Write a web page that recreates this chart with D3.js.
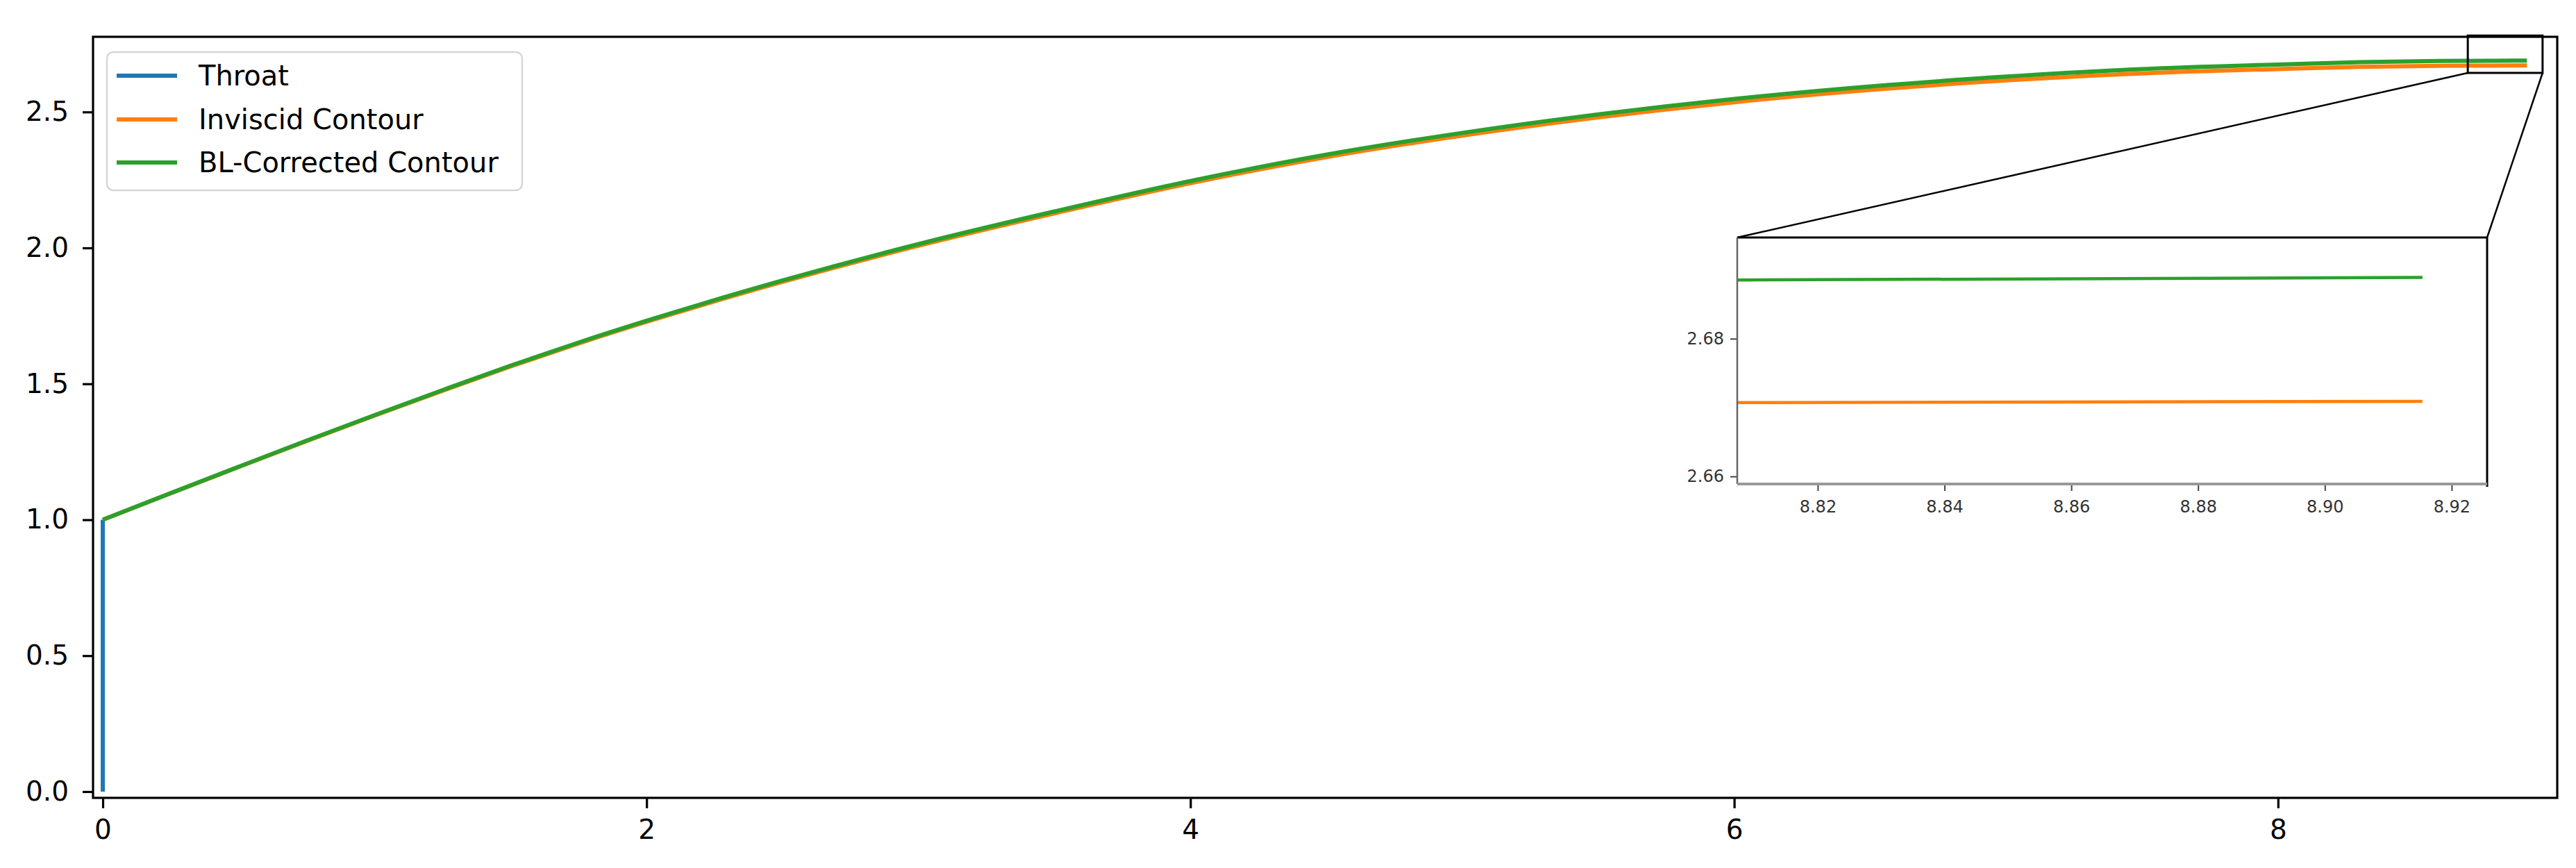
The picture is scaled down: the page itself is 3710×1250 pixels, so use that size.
<!DOCTYPE html>
<html>
<head>
<meta charset="utf-8">
<script src="https://cdn.jsdelivr.net/npm/d3@7/dist/d3.min.js"></script>
<style>
  html, body { margin: 0; padding: 0; background: #ffffff; }
  svg { display: block; font-family: "DejaVu Sans", sans-serif; }
</style>
</head>
<body>
<script>
// ---------------- data ----------------
const contourX   = [0, 0.25, 0.5, 0.75, 1.0, 1.25, 1.5, 1.75, 2.0, 2.5, 3.0, 3.5, 4.0, 4.5, 5.0, 5.5, 6.0, 6.5, 7.0, 7.5, 8.0, 8.3, 8.6, 8.8, 8.9154];
const inviscidY  = [1.000, 1.0975, 1.194, 1.2895, 1.383, 1.4745, 1.564, 1.6485, 1.728, 1.875, 2.008, 2.127, 2.238, 2.334, 2.413, 2.480, 2.536, 2.581, 2.616, 2.642, 2.658, 2.666, 2.6697, 2.6707, 2.6709];
const blY        = [1.000, 1.098, 1.195, 1.291, 1.385, 1.477, 1.567, 1.652, 1.732, 1.880, 2.014, 2.134, 2.246, 2.343, 2.423, 2.491, 2.548, 2.594, 2.630, 2.658, 2.6745, 2.6830, 2.6875, 2.6885, 2.6889];
const throatX    = [0, 0];
const throatY    = [0, 1.0];
const seriesNames  = ["Throat", "Inviscid Contour", "BL-Corrected Contour"];
const seriesColors = ["#1f77b4", "#ff7f0e", "#2ca02c"];
const xTicks     = [0, 2, 4, 6, 8];
const yTicks     = [0.0, 0.5, 1.0, 1.5, 2.0, 2.5];
const insetXTicks = [8.82, 8.84, 8.86, 8.88, 8.90, 8.92];
const insetYTicks = [2.66, 2.68];
const xDomain = [-0.0358, 9.027];
const yDomain = [-0.023, 2.7765];
const insetXDomain = [8.8073, 8.9256];
const insetYDomain = [2.6589, 2.6947];
const zoomRectX = [8.698, 8.973];   // indicator rectangle in data units
const zoomRectY = [2.6437, 2.781];

// ---------------- layout ----------------
const W = 3710, H = 1250;
const plot = { left: 134, right: 3683, top: 53, bottom: 1149 };
const inset = { left: 2502, right: 3582, top: 342, bottom: 697 };

const svg = d3.select("body").append("svg").attr("width", W).attr("height", H);
svg.append("rect").attr("width", W).attr("height", H).attr("fill", "#fff");

const x = d3.scaleLinear().domain(xDomain).range([plot.left, plot.right]);
const y = d3.scaleLinear().domain(yDomain).range([plot.bottom, plot.top]);

const series = [
  { name: seriesNames[0], color: seriesColors[0], pts: throatX.map((v, i) => [v, throatY[i]]) },
  { name: seriesNames[1], color: seriesColors[1], pts: contourX.map((v, i) => [v, inviscidY[i]]) },
  { name: seriesNames[2], color: seriesColors[2], pts: contourX.map((v, i) => [v, blY[i]]) }
];

const defs = svg.append("defs");
defs.append("clipPath").attr("id", "clipMain").append("rect")
  .attr("x", plot.left).attr("y", plot.top)
  .attr("width", plot.right - plot.left).attr("height", plot.bottom - plot.top);
defs.append("clipPath").attr("id", "clipInset").append("rect")
  .attr("x", inset.left).attr("y", inset.top)
  .attr("width", inset.right - inset.left).attr("height", inset.bottom - inset.top);

// main lines
const lineMain = d3.line().x(d => x(d[0])).y(d => y(d[1])).curve(d3.curveMonotoneX);
const lineThroat = d3.line().x(d => x(d[0])).y(d => y(d[1]));
const gMain = svg.append("g").attr("clip-path", "url(#clipMain)");
series.forEach((s, i) => {
  gMain.append("path").datum(s.pts)
    .attr("d", i === 0 ? lineThroat : lineMain)
    .attr("fill", "none").attr("stroke", s.color)
    .attr("stroke-width", 6).attr("stroke-linecap", "butt").attr("stroke-linejoin", "round");
});

// axes
const fontMain = 39;
const xAxis = d3.axisBottom(x).tickValues(xTicks).tickFormat(d3.format("d")).tickSize(15).tickPadding(14);
const yAxis = d3.axisLeft(y).tickValues(yTicks).tickFormat(d3.format(".1f")).tickSize(15).tickPadding(20);
const gx = svg.append("g").attr("transform", `translate(0,${plot.bottom})`).call(xAxis);
const gy = svg.append("g").attr("transform", `translate(${plot.left},0)`).call(yAxis);
[gx, gy].forEach(g => {
  g.select(".domain").remove();
  g.selectAll(".tick line").attr("stroke", "#000").attr("stroke-width", 3.2);
  g.selectAll(".tick text").attr("fill", "#000").attr("font-size", fontMain)
    .attr("font-family", "DejaVu Sans");
});
gx.selectAll(".tick text").attr("dy", "0.76em");

// spines
svg.append("rect")
  .attr("x", plot.left).attr("y", plot.top)
  .attr("width", plot.right - plot.left).attr("height", plot.bottom - plot.top)
  .attr("fill", "none").attr("stroke", "#000").attr("stroke-width", 3.2);

// legend
const leg = svg.append("g");
leg.append("rect").attr("x", 154).attr("y", 75).attr("width", 598).attr("height", 199)
  .attr("rx", 9).attr("ry", 9)
  .attr("fill", "#fff").attr("fill-opacity", 0.8)
  .attr("stroke", "#d6d6d6").attr("stroke-width", 2.5);
const rowY = [109, 172, 234];
series.forEach((s, i) => {
  leg.append("line").attr("x1", 168).attr("x2", 255).attr("y1", rowY[i]).attr("y2", rowY[i])
    .attr("stroke", s.color).attr("stroke-width", 6);
  leg.append("text").attr("x", 286).attr("y", rowY[i] + 14)
    .attr("font-size", 40).attr("fill", "#000").text(s.name);
});

// indicator rectangle
svg.append("rect")
  .attr("x", x(zoomRectX[0])).attr("y", y(zoomRectY[1]))
  .attr("width", x(zoomRectX[1]) - x(zoomRectX[0]))
  .attr("height", y(zoomRectY[0]) - y(zoomRectY[1]))
  .attr("fill", "none").attr("stroke", "#000").attr("stroke-width", 3);

// connectors
svg.append("line")
  .attr("x1", x(zoomRectX[0])).attr("y1", y(zoomRectY[0]))
  .attr("x2", inset.left).attr("y2", inset.top)
  .attr("stroke", "#000").attr("stroke-width", 2.5);
svg.append("line")
  .attr("x1", x(zoomRectX[1])).attr("y1", y(zoomRectY[0]))
  .attr("x2", inset.right).attr("y2", inset.top)
  .attr("stroke", "#000").attr("stroke-width", 2.5);

// inset
const xi = d3.scaleLinear().domain(insetXDomain).range([inset.left, inset.right]);
const yi = d3.scaleLinear().domain(insetYDomain).range([inset.bottom, inset.top]);
svg.append("rect").attr("x", inset.left).attr("y", inset.top)
  .attr("width", inset.right - inset.left).attr("height", inset.bottom - inset.top)
  .attr("fill", "#fff");
const lineInset = d3.line().x(d => xi(d[0])).y(d => yi(d[1]));
const gIn = svg.append("g").attr("clip-path", "url(#clipInset)");
series.forEach((s, i) => {
  if (i === 0) return;
  gIn.append("path").datum(s.pts).attr("d", lineInset)
    .attr("fill", "none").attr("stroke", s.color).attr("stroke-width", 4.5);
});
const fontInset = 24;
const xiAxis = d3.axisBottom(xi).tickValues(insetXTicks).tickFormat(d3.format(".2f")).tickSize(10).tickPadding(13);
const yiAxis = d3.axisLeft(yi).tickValues(insetYTicks).tickFormat(d3.format(".2f")).tickSize(10).tickPadding(9);
const gxi = svg.append("g").attr("transform", `translate(0,${inset.bottom})`).call(xiAxis);
const gyi = svg.append("g").attr("transform", `translate(${inset.left},0)`).call(yiAxis);
[gxi, gyi].forEach(g => {
  g.select(".domain").remove();
  g.selectAll(".tick line").attr("stroke", "#444").attr("stroke-width", 2);
  g.selectAll(".tick text").attr("fill", "#333").attr("font-size", fontInset)
    .attr("font-family", "DejaVu Sans");
});
gxi.selectAll(".tick text").attr("dy", "0.76em");
// inset spines
svg.append("line").attr("x1", inset.left).attr("x2", inset.right).attr("y1", inset.top).attr("y2", inset.top)
  .attr("stroke", "#000").attr("stroke-width", 3);
svg.append("line").attr("x1", inset.right).attr("x2", inset.right).attr("y1", inset.top).attr("y2", inset.bottom + 4)
  .attr("stroke", "#000").attr("stroke-width", 3);
svg.append("line").attr("x1", inset.left).attr("x2", inset.left).attr("y1", inset.top).attr("y2", inset.bottom)
  .attr("stroke", "#666").attr("stroke-width", 2.5);
svg.append("line").attr("x1", inset.left).attr("x2", inset.right).attr("y1", inset.bottom).attr("y2", inset.bottom)
  .attr("stroke", "#999").attr("stroke-width", 4);
</script>
</body>
</html>
